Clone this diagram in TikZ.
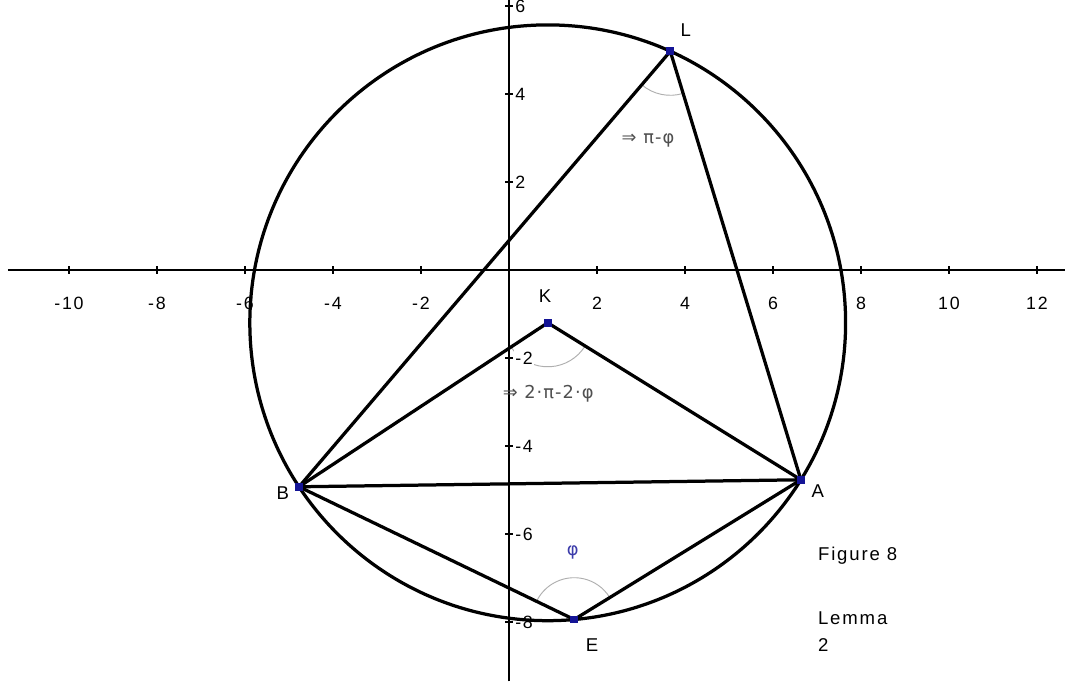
\documentclass[tikz,border=0pt]{standalone}
\usepackage{fontspec}
\setmainfont{Liberation Sans}
\newfontfamily\ptfont[LetterSpace=10]{Liberation Sans}
\newfontfamily\symfont[LetterSpace=6]{DejaVu Sans}
\usetikzlibrary{angles,positioning}

\definecolor{ptblue}{RGB}{20,20,150}
\definecolor{phiblue}{RGB}{60,60,170}
\definecolor{arcgray}{RGB}{175,175,175}
\definecolor{txtgray}{RGB}{80,80,80}

\tikzset{
  geo/.style={line width=2.1pt, line join=round, line cap=round},
  axis/.style={line width=0.9pt},
  ptmark/.style={rectangle, fill=ptblue, inner sep=0pt, minimum size=5pt},
  ptlabel/.style={font=\ptfont\fontsize{12}{17.4}\selectfont},
  ticklabel/.style={font=\ptfont\fontsize{11.5}{13}\selectfont},
  anglearc/.style={draw=arcgray, line width=0.6pt, angle radius=1cm},
  anglelabel/.style={font=\symfont\fontsize{11.5}{13}\selectfont, text=txtgray}
}

\begin{document}
\begin{tikzpicture}

\useasboundingbox[fill=white] (-11.568,-9.341) rectangle (12.636,6.136);

% points on the circle
\coordinate (K) at (0.88,-1.20);
\coordinate (L) at (3.666,4.970);
\coordinate (A) at (6.634,-4.768);
\coordinate (B) at (-4.772,-4.927);
\coordinate (E) at (1.482,-7.943);

% angles
\pic[anglearc] {angle=B--L--A};
\pic[anglearc] {angle=B--K--A};
\pic[anglearc, angle radius=0.95cm] {angle=A--E--B};

% axes
\draw[axis] (-11.39,0) -- (12.64,0);
\draw[axis] (0,-9.35) -- (0,6.2);
\foreach \x in {-10,-8,-6,-4,-2,2,4,6,8,10,12}{
  \draw[axis] (\x,-0.09) -- (\x,0.09);
  \node[ticklabel] at (\x,-0.76) {\x};
}
\foreach \y in {-8,-6,-4,-2,2,4,6}{
  \draw[axis] (-0.09,\y) -- (0.09,\y);
  \node[ticklabel, anchor=west, fill=white, inner sep=1pt] at (0.1,\y) {\y};
}

\draw[geo] (K) circle[radius=6.77];
\draw[geo] (B) -- (L) -- (A);
\draw[geo] (B) -- (K) -- (A);
\draw[geo] (B) -- (A);
\draw[geo] (B) -- (E) -- (A);

\foreach \p in {K,L,A,B,E}
  \node[ptmark] (m\p) at (\p) {};

% labels
\node[ptlabel] (lblL) at (4.02,5.45) {L};
\node[ptlabel] (lblK) at (0.82,-0.59) {K};
\node[ptlabel] (lblB) at (-5.14,-5.07) {B};
\node[ptlabel] (lblA) at (7.02,-5.02) {A};
\node[ptlabel] (lblE) at (1.89,-8.52) {E};

\node[anglelabel] (angL) at (3.16,2.95) {⇒ π-φ};
\node[anglelabel] (angK) at (0.89,-2.82) {⇒ 2·π-2·φ};
\node[anglelabel, text=phiblue] (angE) at (1.45,-6.43) {φ};

\node[ptlabel, anchor=west] (fig) at (6.9,-6.5) {Figure 8};
\node[ptlabel, anchor=west, align=left] (lemma) at (6.9,-8.22) {Lemma\\2};

\end{tikzpicture}
\end{document}
